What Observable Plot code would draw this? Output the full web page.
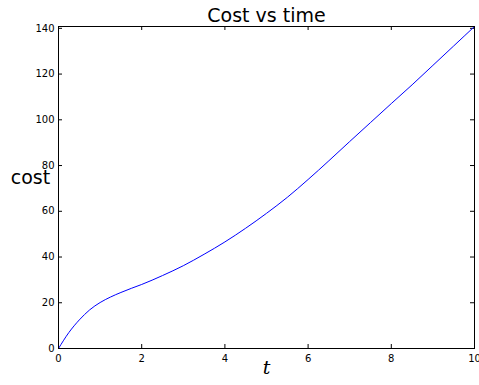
<!DOCTYPE html>
<html>
<head>
<meta charset="utf-8">
<script src="https://cdn.jsdelivr.net/npm/d3@7"></script>
<script src="https://cdn.jsdelivr.net/npm/@observablehq/plot@0.6"></script>
<style>
  html, body { margin: 0; padding: 0; background: #fff; }
  svg { font-family: "DejaVu Sans", sans-serif; }
</style>
</head>
<body>
<div id="chart"></div>
<script>
const times = [0, 0.25, 0.5, 0.75, 1, 1.25, 1.5, 1.75, 2, 2.5, 3, 3.5, 4, 4.5, 5, 5.5, 6, 6.5, 7, 7.5, 8, 8.5, 9, 9.5, 10];
const costs = [0, 7, 12.5, 16.9, 20.1, 22.5, 24.5, 26.3, 28, 31.9, 36.2, 41.2, 46.6, 52.6, 59.1, 66.1, 73.9, 82.1, 90.5, 98.8, 107.1, 115.3, 123.8, 132.3, 140.8];
const xTicks = [0, 2, 4, 6, 8, 10];
const yTicks = [0, 20, 40, 60, 80, 100, 120, 140];

const data = times.map((t, i) => ({t, cost: costs[i]}));

const W = 479, H = 385;
const mL = 58, mR = 5, mT = 26, mB = 37;
const innerH = H - mT - mB;
const innerW = W - mL - mR;
const tk = 4;

const chart = Plot.plot({
  width: W,
  height: H,
  marginLeft: mL,
  marginRight: mR,
  marginTop: mT,
  marginBottom: mB,
  style: {fontFamily: "DejaVu Sans, sans-serif", background: "#fff", overflow: "hidden"},
  x: {domain: [0, 10]},
  y: {domain: [0, 140.8]},
  marks: [
    Plot.axisX({ticks: xTicks, tickSize: 0, tickPadding: 6, fontSize: 10, label: null, color: "#000"}),
    Plot.axisY({ticks: yTicks, tickSize: 0, tickPadding: 4, fontSize: 10, label: null, color: "#000"}),
    Plot.tickX(xTicks, {x: d => d, insetTop: innerH - tk, stroke: "#000", strokeWidth: 1}),
    Plot.tickX(xTicks, {x: d => d, insetBottom: innerH - tk, stroke: "#000", strokeWidth: 1}),
    Plot.tickY(yTicks, {y: d => d, insetRight: innerW - tk, stroke: "#000", strokeWidth: 1}),
    Plot.tickY(yTicks, {y: d => d, insetLeft: innerW - tk, stroke: "#000", strokeWidth: 1}),
    Plot.line(data, {x: "t", y: "cost", stroke: "#0000ff", strokeWidth: 1, curve: "monotone-x"}),
    Plot.frame({stroke: "#000", strokeWidth: 1}),
    Plot.text(["Cost vs time"], {frameAnchor: "top", lineAnchor: "middle", dy: -11, fontSize: 19, fill: "#000"}),
    Plot.text(["cost"], {frameAnchor: "left", lineAnchor: "middle", dx: -28, dy: -10, textAnchor: "middle", fontSize: 19, fill: "#000"}),
    Plot.text(["t"], {frameAnchor: "bottom", lineAnchor: "middle", dy: 19, fontSize: 19, fontStyle: "italic", fontFamily: "DejaVu Serif, serif", fill: "#000"})
  ]
});
document.getElementById("chart").appendChild(chart);
</script>
</body>
</html>
